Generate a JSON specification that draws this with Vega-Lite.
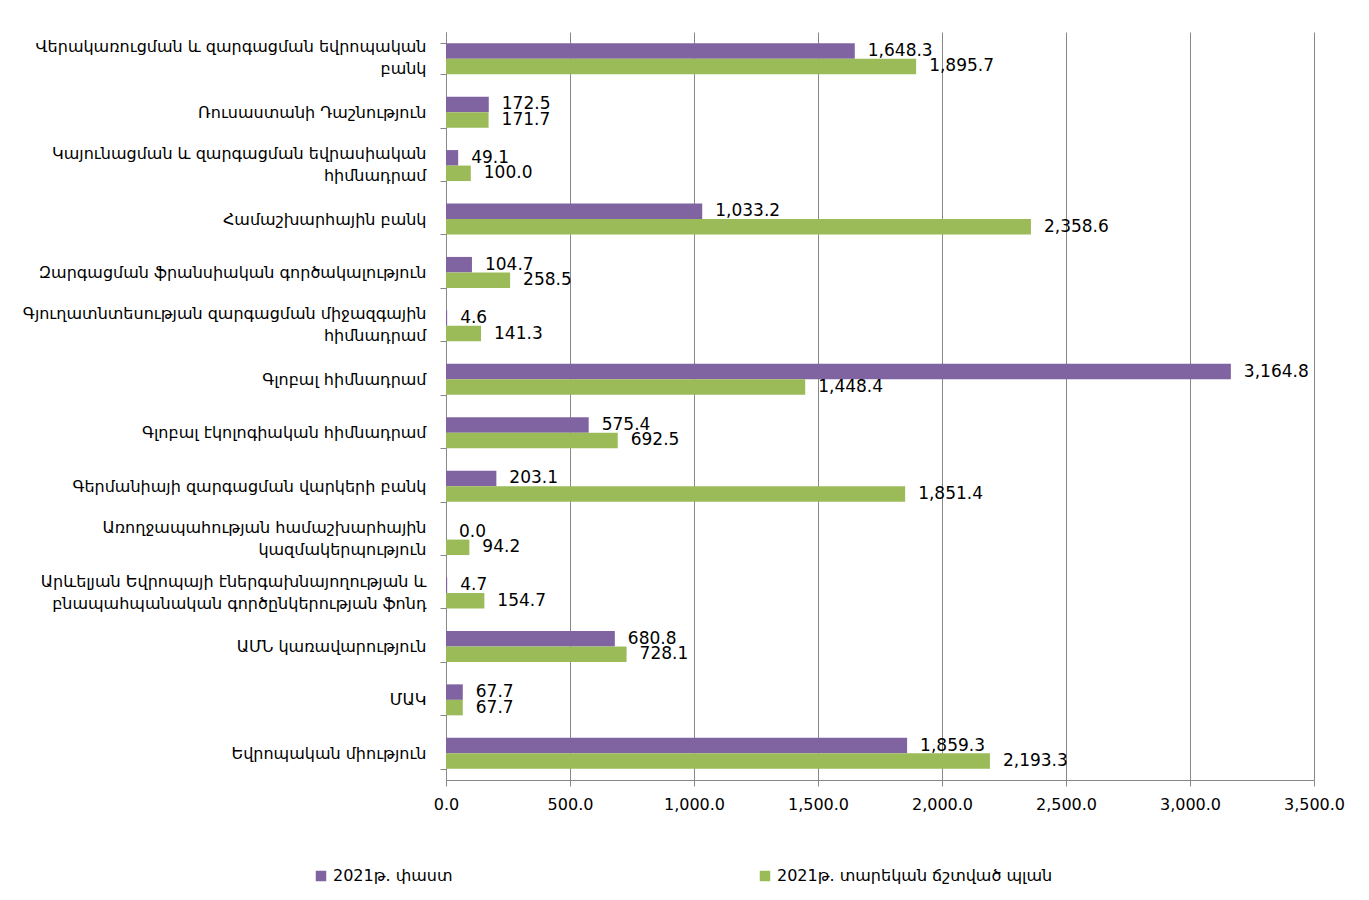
{
  "$schema": "https://vega.github.io/schema/vega-lite/v6.json",
  "width": 868,
  "height": 748,
  "autosize": {"type": "none"},
  "padding": {"left": 446, "top": 32, "right": 55, "bottom": 120},
  "background": "white",
  "data": {
    "values": [
      {"org": "Վերակառուցման և զարգացման եվրոպական\nբանկ", "series": "2021թ. փաստ", "value": 1648.3},
      {"org": "Վերակառուցման և զարգացման եվրոպական\nբանկ", "series": "2021թ. տարեկան ճշտված պլան", "value": 1895.7},
      {"org": "Ռուսաստանի Դաշնություն", "series": "2021թ. փաստ", "value": 172.5},
      {"org": "Ռուսաստանի Դաշնություն", "series": "2021թ. տարեկան ճշտված պլան", "value": 171.7},
      {"org": "Կայունացման և զարգացման եվրասիական\nհիմնադրամ", "series": "2021թ. փաստ", "value": 49.1},
      {"org": "Կայունացման և զարգացման եվրասիական\nհիմնադրամ", "series": "2021թ. տարեկան ճշտված պլան", "value": 100.0},
      {"org": "Համաշխարհային բանկ", "series": "2021թ. փաստ", "value": 1033.2},
      {"org": "Համաշխարհային բանկ", "series": "2021թ. տարեկան ճշտված պլան", "value": 2358.6},
      {"org": "Զարգացման ֆրանսիական գործակալություն", "series": "2021թ. փաստ", "value": 104.7},
      {"org": "Զարգացման ֆրանսիական գործակալություն", "series": "2021թ. տարեկան ճշտված պլան", "value": 258.5},
      {"org": "Գյուղատնտեսության զարգացման միջազգային\nհիմնադրամ", "series": "2021թ. փաստ", "value": 4.6},
      {"org": "Գյուղատնտեսության զարգացման միջազգային\nհիմնադրամ", "series": "2021թ. տարեկան ճշտված պլան", "value": 141.3},
      {"org": "Գլոբալ հիմնադրամ", "series": "2021թ. փաստ", "value": 3164.8},
      {"org": "Գլոբալ հիմնադրամ", "series": "2021թ. տարեկան ճշտված պլան", "value": 1448.4},
      {"org": "Գլոբալ էկոլոգիական հիմնադրամ", "series": "2021թ. փաստ", "value": 575.4},
      {"org": "Գլոբալ էկոլոգիական հիմնադրամ", "series": "2021թ. տարեկան ճշտված պլան", "value": 692.5},
      {"org": "Գերմանիայի զարգացման վարկերի բանկ", "series": "2021թ. փաստ", "value": 203.1},
      {"org": "Գերմանիայի զարգացման վարկերի բանկ", "series": "2021թ. տարեկան ճշտված պլան", "value": 1851.4},
      {"org": "Առողջապահության համաշխարհային\nկազմակերպություն", "series": "2021թ. փաստ", "value": 0.0},
      {"org": "Առողջապահության համաշխարհային\nկազմակերպություն", "series": "2021թ. տարեկան ճշտված պլան", "value": 94.2},
      {"org": "Արևելյան Եվրոպայի էներգախնայողության և\nբնապահպանական գործընկերության ֆոնդ", "series": "2021թ. փաստ", "value": 4.7},
      {"org": "Արևելյան Եվրոպայի էներգախնայողության և\nբնապահպանական գործընկերության ֆոնդ", "series": "2021թ. տարեկան ճշտված պլան", "value": 154.7},
      {"org": "ԱՄՆ կառավարություն", "series": "2021թ. փաստ", "value": 680.8},
      {"org": "ԱՄՆ կառավարություն", "series": "2021թ. տարեկան ճշտված պլան", "value": 728.1},
      {"org": "ՄԱԿ", "series": "2021թ. փաստ", "value": 67.7},
      {"org": "ՄԱԿ", "series": "2021թ. տարեկան ճշտված պլան", "value": 67.7},
      {"org": "Եվրոպական միություն", "series": "2021թ. փաստ", "value": 1859.3},
      {"org": "Եվրոպական միություն", "series": "2021թ. տարեկան ճշտված պլան", "value": 2193.3}
    ]
  },
  "encoding": {
    "y": {
      "field": "org",
      "type": "nominal",
      "sort": null,
      "scale": {"paddingInner": 0.42, "paddingOuter": 0.21},
      "axis": {
        "title": null,
        "labelExpr": "split(datum.label, '\\n')",
        "labelFont": "DejaVu Sans",
        "labelFontSize": 16,
        "labelColor": "#000000",
        "labelLimit": 0,
        "labelPadding": 14,
        "labelLineHeight": 22,
        "labelOffset": {"condition": {"test": "indexof(datum.label, '\\n') >= 0", "value": -12}, "value": 0},
        "tickBand": "extent",
        "tickSize": 6,
        "tickColor": "#888888",
        "domainColor": "#888888",
        "grid": false
      }
    },
    "x": {
      "field": "value",
      "type": "quantitative",
      "scale": {"domain": [0, 3500], "nice": false},
      "axis": {
        "title": null,
        "values": [0, 500, 1000, 1500, 2000, 2500, 3000, 3500],
        "format": ",.1f",
        "labelFont": "DejaVu Sans",
        "labelFontSize": 16,
        "labelColor": "#000000",
        "labelPadding": 10,
        "labelFlush": false,
        "grid": true,
        "gridColor": "#888888",
        "gridWidth": 1,
        "tickColor": "#888888",
        "tickSize": 6,
        "domainColor": "#888888"
      }
    },
    "yOffset": {
      "field": "series",
      "sort": ["2021թ. փաստ", "2021թ. տարեկան ճշտված պլան"],
      "scale": {"paddingInner": 0, "paddingOuter": 0}
    }
  },
  "layer": [
    {
      "mark": {"type": "bar"},
      "encoding": {
        "color": {
          "field": "series",
          "type": "nominal",
          "scale": {
            "domain": ["2021թ. փաստ", "2021թ. տարեկան ճշտված պլան"],
            "range": ["#8064A2", "#9BBB59"]
          },
          "legend": {
            "title": null,
            "orient": "none",
            "legendX": -133,
            "legendY": 836,
            "direction": "horizontal",
            "columnPadding": 304,
            "symbolType": "square",
            "symbolSize": 110,
            "symbolStrokeWidth": 0,
            "labelFont": "DejaVu Sans",
            "labelFontSize": 16,
            "labelColor": "#000000",
            "labelLimit": 0
          }
        }
      }
    },
    {
      "mark": {"type": "text", "align": "left", "baseline": "middle", "dx": 13, "font": "DejaVu Sans", "fontSize": 17, "color": "#000000"},
      "encoding": {
        "text": {"field": "value", "type": "quantitative", "format": ",.1f"}
      }
    }
  ],
  "config": {
    "view": {"stroke": null}
  }
}
